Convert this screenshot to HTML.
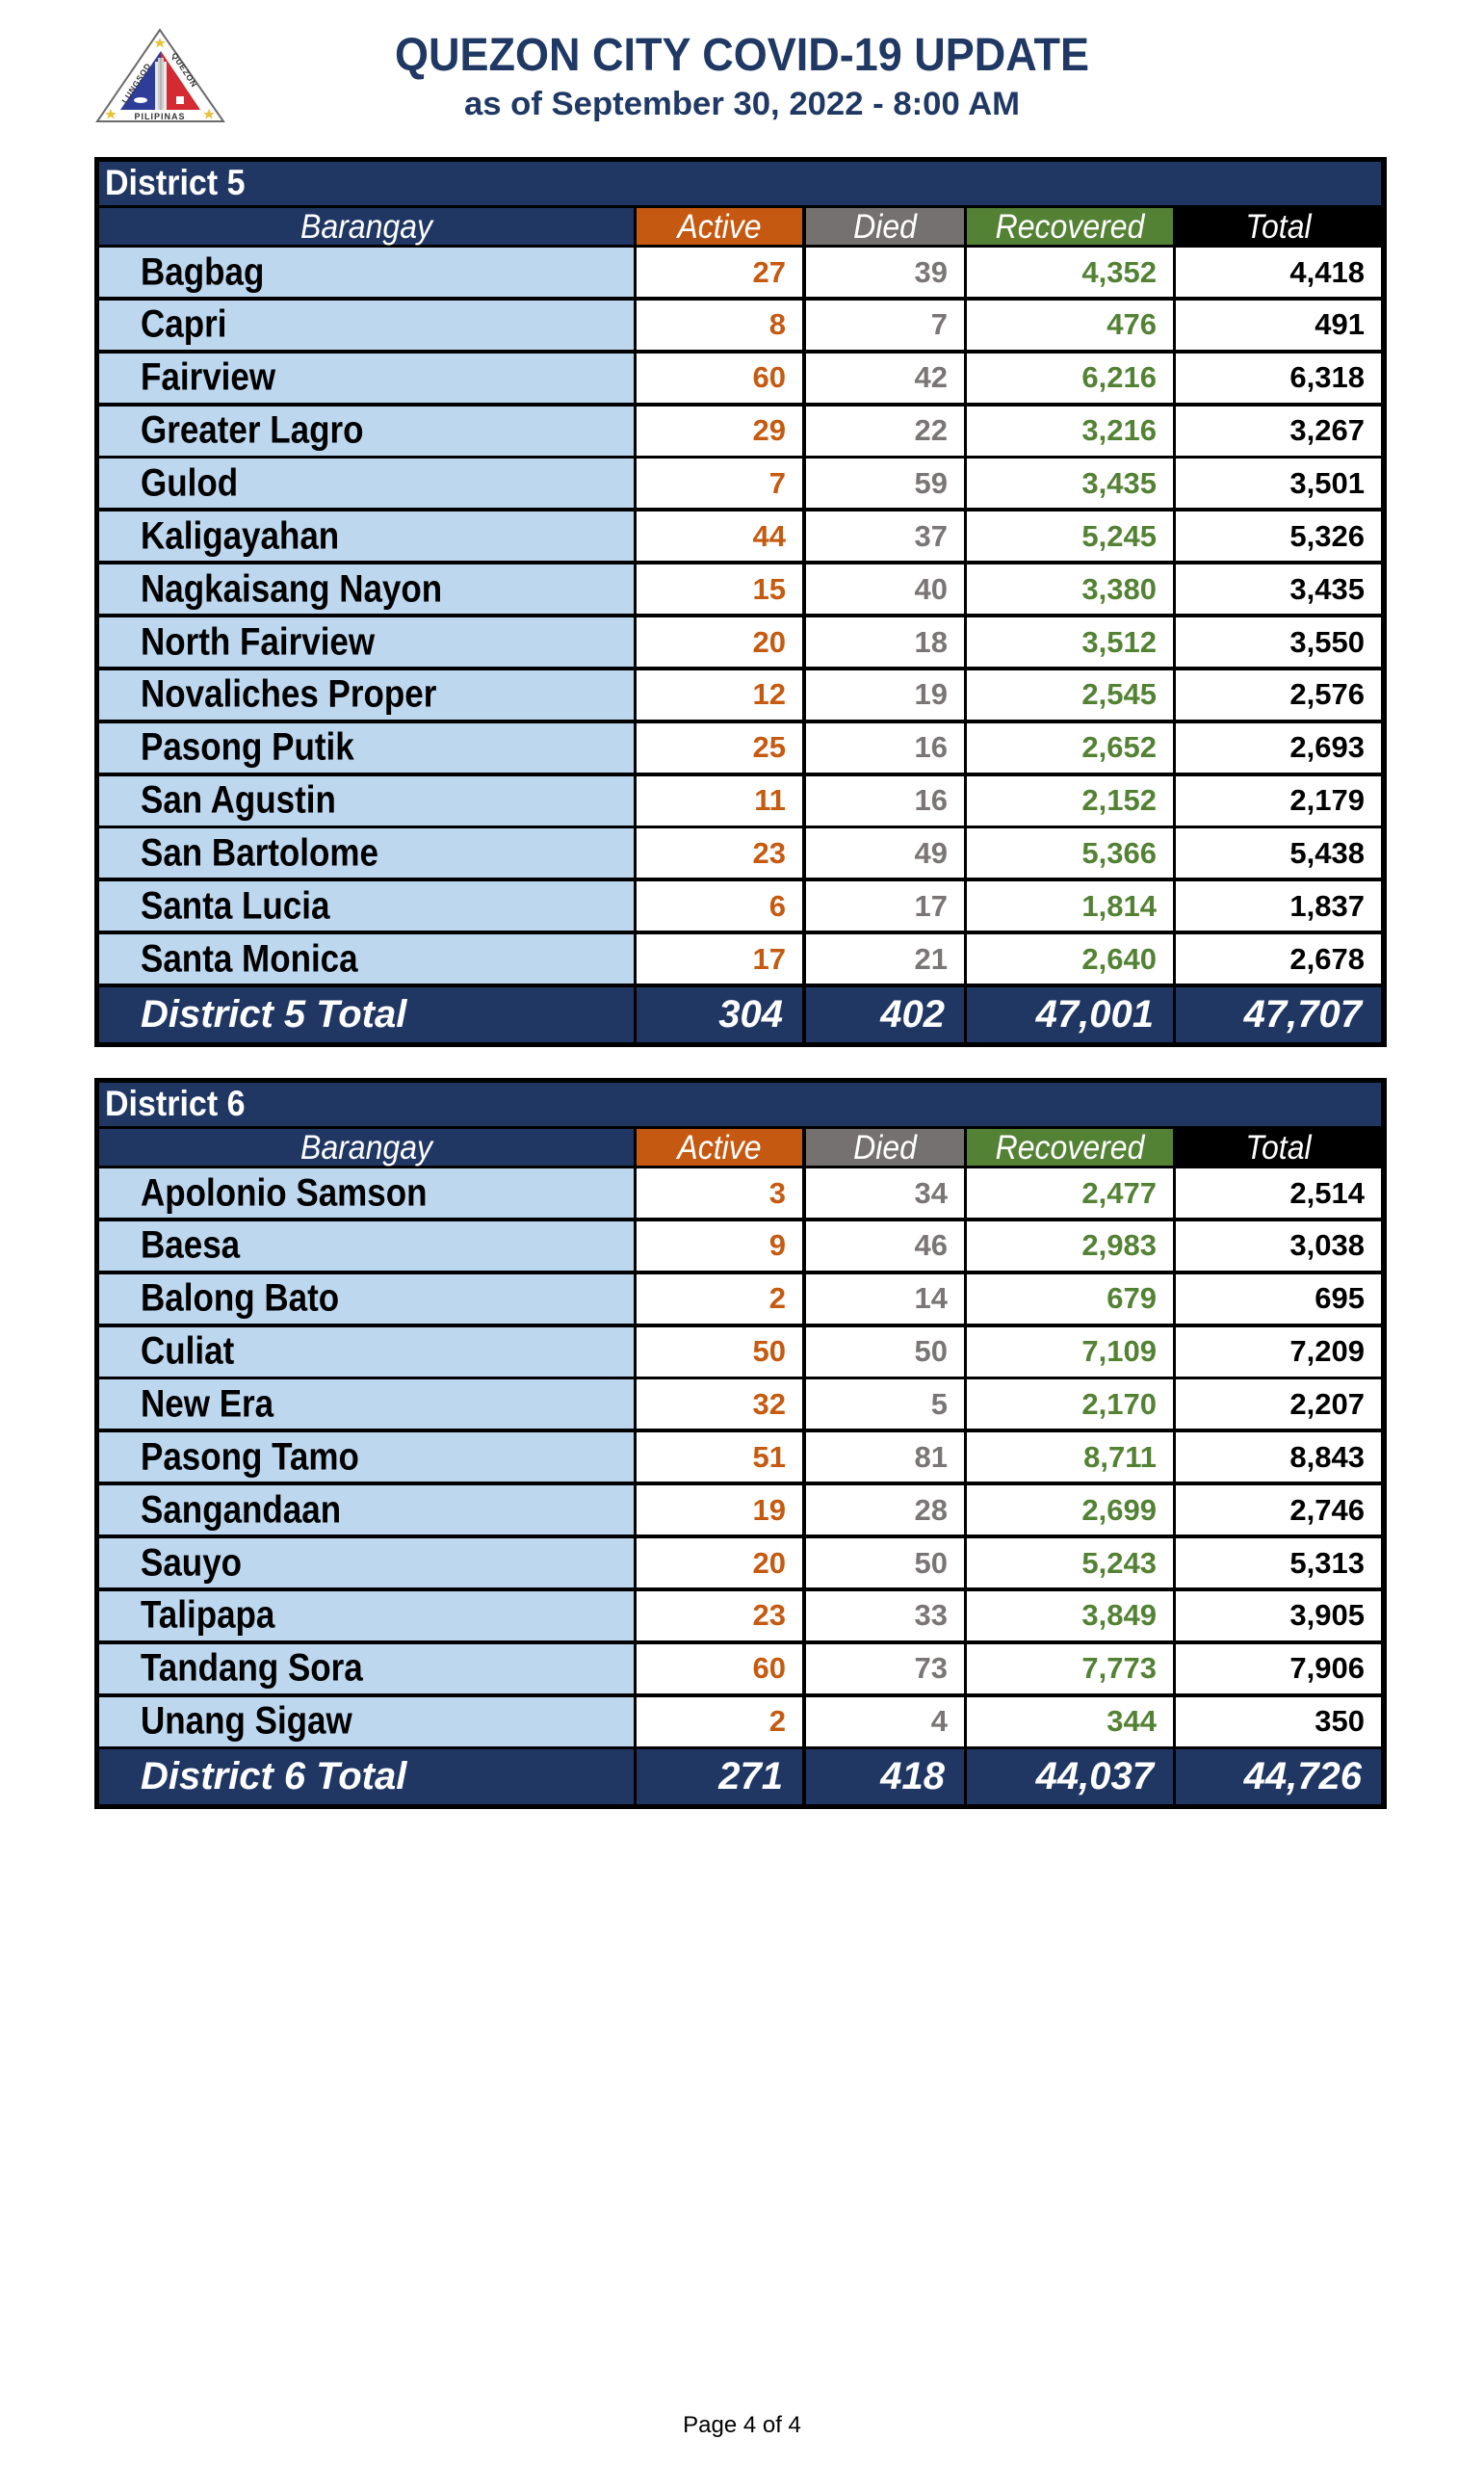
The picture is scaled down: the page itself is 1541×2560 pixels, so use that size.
<!DOCTYPE html>
<html>
<head>
<meta charset="utf-8">
<style>
  html,body{margin:0;padding:0;background:#fff;}
  body{width:1541px;height:2560px;position:relative;overflow:hidden;font-family:"Liberation Sans",Arial,sans-serif;}
  .title{position:absolute;left:0;width:1541px;text-align:center;color:#1F3864;font-weight:bold;white-space:nowrap;}
  .title span{display:inline-block;}
  .d{position:absolute;left:98px;width:1342px;background:#000;}
  .band{position:absolute;left:5px;top:5px;width:1331px;height:45px;background:#203764;color:#fff;
        font-weight:bold;font-size:34px;display:flex;align-items:center;padding-left:6px;box-sizing:border-box;}
  .band span{display:inline-block;transform:scaleY(1.1);}
  .r{position:absolute;left:0;width:1342px;height:51px;}
  .r>div{position:absolute;top:0;height:100%;display:flex;align-items:center;box-sizing:border-box;white-space:nowrap;}
  .c0{left:5px;width:555px;}
  .c1{left:563px;width:172px;}
  .c2{left:739px;width:164px;}
  .c3{left:906px;width:214px;}
  .c4{left:1123px;width:213px;}
  /* data rows */
  .r .c0{background:#BDD7EE;padding-left:43px;font-weight:bold;font-size:35px;color:#000;}
  .r .c0 span{display:inline-block;transform:scaleY(1.15);}
  .r .c1,.r .c2,.r .c3,.r .c4{background:#fff;justify-content:flex-end;padding-right:17px;font-weight:bold;font-size:31px;}
  .r .c1{color:#C55A11;}
  .r .c2{color:#7A7676;}
  .r .c3{color:#548235;}
  .r .c4{color:#000;}
  /* header row */
  .r.h{height:38px;}
  .r.h>div{justify-content:center;padding:0;color:#fff;font-style:italic;font-size:32px;font-weight:normal;}
  .r.h>div span{display:inline-block;transform:scaleY(1.1);}
  .r.h .c0{background:#203764;}
  .r.h .c1{background:#C65911;}
  .r.h .c2{background:#767171;}
  .r.h .c3{background:#548235;}
  .r.h .c4{background:#000;}
  /* totals row */
  .r.t{height:57px;}
  .r.t>div{background:#203764;color:#fff;font-style:italic;font-weight:bold;font-size:40px;}
  .r.t .c1,.r.t .c2,.r.t .c3,.r.t .c4{padding-right:20px;}
  .r.t .c0{padding-left:43px;font-size:40px;}
  .r.t .c0 span{transform:none;}
  .foot{position:absolute;left:0;width:1541px;text-align:center;top:2506px;font-size:24px;line-height:24px;color:#000;}
</style>
</head>
<body>

<!-- Logo -->
<svg style="position:absolute;left:0;top:0" width="260" height="140" viewBox="0 0 260 140">
  <polygon points="166,31 101,126 232,126" fill="#fff" stroke="#6b6b6b" stroke-width="2"/>
  <polygon points="167,53 125,114 167,114" fill="#2E3D98"/>
  <polygon points="167,53 208,114 167,114" fill="#D42A32"/>
  <rect x="161" y="64" width="12" height="50" fill="#e8e8e8"/>
  <rect x="164" y="60" width="6" height="54" fill="#cfcfcf"/>
  <line x1="167" y1="60" x2="167" y2="114" stroke="#999" stroke-width="1"/>
  <ellipse cx="146" cy="104" rx="7" ry="3" fill="#fff"/>
  <rect x="183" y="100" width="8" height="8" fill="#fff"/>
  <polygon points="166,39 167.6,43 172,43 168.5,45.5 169.8,49.5 166,47 162.2,49.5 163.5,45.5 160,43 164.4,43" fill="#E8C23A"/>
  <polygon points="115,113 116.6,117 121,117 117.5,119.5 118.8,123.5 115,121 111.2,123.5 112.5,119.5 109,117 113.4,117" fill="#E8C23A"/>
  <polygon points="217,113 218.6,117 223,117 219.5,119.5 220.8,123.5 217,121 213.2,123.5 214.5,119.5 211,117 215.4,117" fill="#E8C23A"/>
  <text x="166" y="124" text-anchor="middle" font-family="Liberation Sans, sans-serif" font-weight="bold" font-size="9" letter-spacing="1" fill="#333">PILIPINAS</text>
  <text x="0" y="0" transform="translate(131,108) rotate(-57)" font-family="Liberation Sans, sans-serif" font-weight="bold" font-size="8.5" letter-spacing="0.8" fill="#333">LUNGSOD</text>
  <text x="0" y="0" transform="translate(178,57) rotate(57)" font-family="Liberation Sans, sans-serif" font-weight="bold" font-size="8.5" letter-spacing="0.8" fill="#333">QUEZON</text>
</svg>

<div class="title" style="top:33.7px;font-size:45px;line-height:45px;"><span style="transform:scaleY(1.08);">QUEZON CITY COVID-19 UPDATE</span></div>
<div class="title" style="top:90.6px;font-size:34.7px;line-height:34.7px;"><span>as of September 30, 2022 - 8:00 AM</span></div>

<!-- District 5 -->
<div class="d" style="top:163px;height:924px;">
  <div class="band"><span>District 5</span></div>
  <div class="r h" style="top:53px;"><div class="c0"><span>Barangay</span></div><div class="c1"><span>Active</span></div><div class="c2"><span>Died</span></div><div class="c3"><span>Recovered</span></div><div class="c4"><span>Total</span></div></div>
  <div class="r" style="top:94px;"><div class="c0"><span>Bagbag</span></div><div class="c1">27</div><div class="c2">39</div><div class="c3">4,352</div><div class="c4">4,418</div></div>
  <div class="r" style="top:148.86px;"><div class="c0"><span>Capri</span></div><div class="c1">8</div><div class="c2">7</div><div class="c3">476</div><div class="c4">491</div></div>
  <div class="r" style="top:203.72px;"><div class="c0"><span>Fairview</span></div><div class="c1">60</div><div class="c2">42</div><div class="c3">6,216</div><div class="c4">6,318</div></div>
  <div class="r" style="top:258.58px;"><div class="c0"><span>Greater Lagro</span></div><div class="c1">29</div><div class="c2">22</div><div class="c3">3,216</div><div class="c4">3,267</div></div>
  <div class="r" style="top:313.44px;"><div class="c0"><span>Gulod</span></div><div class="c1">7</div><div class="c2">59</div><div class="c3">3,435</div><div class="c4">3,501</div></div>
  <div class="r" style="top:368.3px;"><div class="c0"><span>Kaligayahan</span></div><div class="c1">44</div><div class="c2">37</div><div class="c3">5,245</div><div class="c4">5,326</div></div>
  <div class="r" style="top:423.16px;"><div class="c0"><span>Nagkaisang Nayon</span></div><div class="c1">15</div><div class="c2">40</div><div class="c3">3,380</div><div class="c4">3,435</div></div>
  <div class="r" style="top:478.02px;"><div class="c0"><span>North Fairview</span></div><div class="c1">20</div><div class="c2">18</div><div class="c3">3,512</div><div class="c4">3,550</div></div>
  <div class="r" style="top:532.88px;"><div class="c0"><span>Novaliches Proper</span></div><div class="c1">12</div><div class="c2">19</div><div class="c3">2,545</div><div class="c4">2,576</div></div>
  <div class="r" style="top:587.74px;"><div class="c0"><span>Pasong Putik</span></div><div class="c1">25</div><div class="c2">16</div><div class="c3">2,652</div><div class="c4">2,693</div></div>
  <div class="r" style="top:642.6px;"><div class="c0"><span>San Agustin</span></div><div class="c1">11</div><div class="c2">16</div><div class="c3">2,152</div><div class="c4">2,179</div></div>
  <div class="r" style="top:697.46px;"><div class="c0"><span>San Bartolome</span></div><div class="c1">23</div><div class="c2">49</div><div class="c3">5,366</div><div class="c4">5,438</div></div>
  <div class="r" style="top:752.32px;"><div class="c0"><span>Santa Lucia</span></div><div class="c1">6</div><div class="c2">17</div><div class="c3">1,814</div><div class="c4">1,837</div></div>
  <div class="r" style="top:807.18px;"><div class="c0"><span>Santa Monica</span></div><div class="c1">17</div><div class="c2">21</div><div class="c3">2,640</div><div class="c4">2,678</div></div>
  <div class="r t" style="top:862px;"><div class="c0"><span>District 5 Total</span></div><div class="c1">304</div><div class="c2">402</div><div class="c3">47,001</div><div class="c4">47,707</div></div>
</div>

<!-- District 6 -->
<div class="d" style="top:1119px;height:759px;">
  <div class="band"><span>District 6</span></div>
  <div class="r h" style="top:53px;"><div class="c0"><span>Barangay</span></div><div class="c1"><span>Active</span></div><div class="c2"><span>Died</span></div><div class="c3"><span>Recovered</span></div><div class="c4"><span>Total</span></div></div>
  <div class="r" style="top:94px;"><div class="c0"><span>Apolonio Samson</span></div><div class="c1">3</div><div class="c2">34</div><div class="c3">2,477</div><div class="c4">2,514</div></div>
  <div class="r" style="top:148.86px;"><div class="c0"><span>Baesa</span></div><div class="c1">9</div><div class="c2">46</div><div class="c3">2,983</div><div class="c4">3,038</div></div>
  <div class="r" style="top:203.72px;"><div class="c0"><span>Balong Bato</span></div><div class="c1">2</div><div class="c2">14</div><div class="c3">679</div><div class="c4">695</div></div>
  <div class="r" style="top:258.58px;"><div class="c0"><span>Culiat</span></div><div class="c1">50</div><div class="c2">50</div><div class="c3">7,109</div><div class="c4">7,209</div></div>
  <div class="r" style="top:313.44px;"><div class="c0"><span>New Era</span></div><div class="c1">32</div><div class="c2">5</div><div class="c3">2,170</div><div class="c4">2,207</div></div>
  <div class="r" style="top:368.3px;"><div class="c0"><span>Pasong Tamo</span></div><div class="c1">51</div><div class="c2">81</div><div class="c3">8,711</div><div class="c4">8,843</div></div>
  <div class="r" style="top:423.16px;"><div class="c0"><span>Sangandaan</span></div><div class="c1">19</div><div class="c2">28</div><div class="c3">2,699</div><div class="c4">2,746</div></div>
  <div class="r" style="top:478.02px;"><div class="c0"><span>Sauyo</span></div><div class="c1">20</div><div class="c2">50</div><div class="c3">5,243</div><div class="c4">5,313</div></div>
  <div class="r" style="top:532.88px;"><div class="c0"><span>Talipapa</span></div><div class="c1">23</div><div class="c2">33</div><div class="c3">3,849</div><div class="c4">3,905</div></div>
  <div class="r" style="top:587.74px;"><div class="c0"><span>Tandang Sora</span></div><div class="c1">60</div><div class="c2">73</div><div class="c3">7,773</div><div class="c4">7,906</div></div>
  <div class="r" style="top:642.6px;"><div class="c0"><span>Unang Sigaw</span></div><div class="c1">2</div><div class="c2">4</div><div class="c3">344</div><div class="c4">350</div></div>
  <div class="r t" style="top:697.46px;"><div class="c0"><span>District 6 Total</span></div><div class="c1">271</div><div class="c2">418</div><div class="c3">44,037</div><div class="c4">44,726</div></div>
</div>

<div class="foot">Page 4 of 4</div>

</body>
</html>
